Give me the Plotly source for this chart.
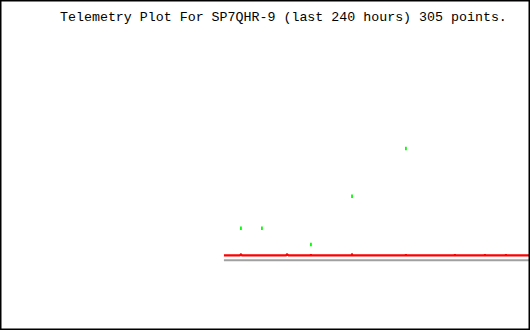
import plotly.graph_objects as go

# Time axis: hours relative to now (window of last 240 hours)
x_range = [-240, 0]
y_range = [0, 100]

# Red telemetry series (hours, value)
red_hours = [-138.6, -131.4, -130.9, -130.4, -110.5, -110.0, -109.3, -99.4, -99.2, -99.0,
             -81.0, -80.6, -80.2, -56.4, -56.2, -56.0, -34.2, -34.0, -33.8, -20.6, -20.4,
             -20.2, -11.1, -10.9, -10.7, 0]
red_values = [22.6, 22.6, 22.9, 22.6, 22.6, 22.9, 22.6, 22.6, 22.9, 22.6,
              22.6, 22.9, 22.6, 22.6, 22.9, 22.6, 22.6, 22.9, 22.6, 22.6, 22.9,
              22.6, 22.6, 22.9, 22.6, 22.6]

# Grey reference series
grey_hours = [-138.6, 0]
grey_values = [21.1, 21.1]

# Green telemetry series (sparse points)
green_hours = [-130.9, -121.4, -99.2, -80.6, -56.2]
green_values = [30.8, 30.8, 25.9, 40.5, 55.0]

title_text = "Telemetry Plot For SP7QHR-9 (last 240 hours) 305 points."

fig = go.Figure()
fig.add_trace(go.Scatter(x=grey_hours, y=grey_values, mode="lines",
                         line=dict(color="#a0a0a0", width=2), hoverinfo="skip"))
fig.add_trace(go.Scatter(x=red_hours, y=red_values, mode="lines",
                         line=dict(color="#ff0000", width=2.2), hoverinfo="skip"))
fig.add_trace(go.Scatter(x=green_hours, y=green_values, mode="markers",
                         marker=dict(symbol="line-ns", size=2.5,
                                     line=dict(color="#00ff00", width=1.8)),
                         hoverinfo="skip"))

fig.add_annotation(text=title_text, x=283.5 / 530, y=1 - 17 / 330, xref="paper", yref="paper",
                   xanchor="center", yanchor="middle", showarrow=False,
                   font=dict(family="Liberation Mono", size=13.3, color="black"))

fig.add_shape(type="rect", xref="paper", yref="paper", x0=0, x1=1, y0=0, y1=1,
              line=dict(color="black", width=3), layer="above")

fig.update_layout(
    width=530, height=330,
    margin=dict(l=0, r=0, t=0, b=0),
    paper_bgcolor="white", plot_bgcolor="white",
    showlegend=False,
    xaxis=dict(range=x_range, visible=False, showgrid=False, zeroline=False, fixedrange=True),
    yaxis=dict(range=y_range, visible=False, showgrid=False, zeroline=False, fixedrange=True),
)

fig.write_html("out.html", config={"displayModeBar": False, "staticPlot": True})
